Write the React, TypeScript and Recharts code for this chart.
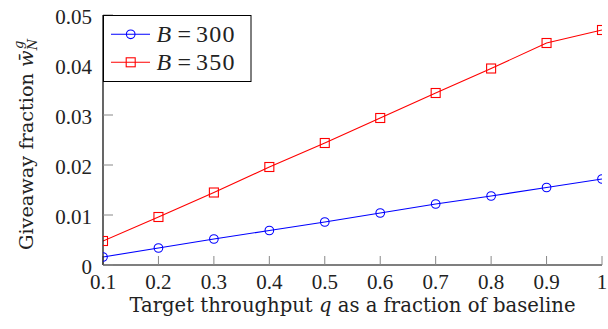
import React from "react";
import { LineChart, Line, XAxis, YAxis } from "recharts";

const qValues = [0.1, 0.2, 0.3, 0.4, 0.5, 0.6, 0.7, 0.8, 0.9, 1.0];
const giveawayB300 = [0.0016, 0.0034, 0.0052, 0.0069, 0.0086, 0.0104, 0.0122, 0.0138, 0.0155, 0.0172];
const giveawayB350 = [0.0048, 0.0096, 0.0145, 0.0196, 0.0244, 0.0294, 0.0344, 0.0393, 0.0444, 0.047];
const xTicks = [0.1, 0.2, 0.3, 0.4, 0.5, 0.6, 0.7, 0.8, 0.9, 1];
const yTicks = [0, 0.01, 0.02, 0.03, 0.04, 0.05];
const seriesValues = ["300", "350"];

const data = qValues.map((q, i) => ({ q, b300: giveawayB300[i], b350: giveawayB350[i] }));

const FONT = "'Liberation Serif', serif";
const LFONT = "'DejaVu Serif', serif";
const BLUE = "#0000ff";
const RED = "#ff0000";
const TXT = "#222";

const fmtX = (v: number) => (v === 1 ? "1" : String(v));
const fmtY = (v: number) => (v === 0 ? "0" : v.toFixed(2));

const CircleDot = (props: any) => {
  const { cx, cy } = props;
  if (cx == null || cy == null) return null;
  return <circle cx={cx} cy={cy} r={4.3} fill="none" stroke={BLUE} strokeWidth={1.1} />;
};
const SquareDot = (props: any) => {
  const { cx, cy } = props;
  if (cx == null || cy == null) return null;
  return <rect x={cx - 4.5} y={cy - 4.5} width={9} height={9} fill="none" stroke={RED} strokeWidth={1.1} />;
};

const LegendBox = () => {
  const colors = [BLUE, RED];
  return (
    <svg width={149} height={67} style={{ position: "absolute", left: 103, top: 15, display: "block" }}>
      <rect x={0.5} y={0.5} width={147.5} height={66} fill="#fff" stroke="#000" strokeWidth={1} />
      {seriesValues.map((v, i) => {
        const y = 19.3 + i * 28;
        const c = colors[i];
        return (
          <g key={i}>
            <line x1={8} x2={47} y1={y} y2={y} stroke={c} strokeWidth={1.1} />
            {i === 0 ? (
              <circle cx={27.7} cy={y} r={4.3} fill="none" stroke={c} strokeWidth={1.1} />
            ) : (
              <rect x={23.2} y={y - 4.5} width={9} height={9} fill="none" stroke={c} strokeWidth={1.1} />
            )}
            <text y={y + 8} fontFamily={FONT} fontSize={24} fill={TXT}>
              <tspan x={53.5} fontStyle="italic">B</tspan>
              <tspan x={74.5}>=</tspan>
              <tspan x={93} letterSpacing={1.3}>{v}</tspan>
            </text>
          </g>
        );
      })}
    </svg>
  );
};

const YLabel = () => (
  <text
    transform="translate(33, 250) rotate(-90)"
    fontFamily={LFONT}
    fontSize={19.3}
    fill={TXT}
    textAnchor="start"
  >
    Giveaway fraction{" "}
    <tspan fontStyle="italic">w̄</tspan>
    <tspan fontStyle="italic" fontSize={13} dy={4}>N</tspan>
    <tspan fontStyle="italic" fontSize={13} dx={-10} dy={-14}>g</tspan>
  </text>
);

const XLabel = () => (
  <text x={352.5} y={312} fontFamily={LFONT} fontSize={19.6} fill={TXT} textAnchor="middle">
    Target throughput <tspan fontStyle="italic">q</tspan> as a fraction of baseline
  </text>
);

export default function App() {
  return (
    <div style={{ position: "absolute", left: 0, top: 0, width: 608, height: 329, background: "#fff" }}>
      <LineChart width={608} height={329} data={data} margin={{ top: 15, right: 6, bottom: 0, left: 0 }}>
        <XAxis
          dataKey="q"
          type="number"
          domain={[0.1, 1]}
          ticks={xTicks}
          tickFormatter={fmtX}
          height={64}
          tickSize={-9}
          tickMargin={18}
          axisLine={{ stroke: "#000", strokeWidth: 1.2 }}
          tickLine={{ stroke: "#888", strokeWidth: 1 }}
          tick={{ fontFamily: FONT, fontSize: 21, fill: TXT }}
          interval={0}
          allowDataOverflow
          label={<XLabel />}
        />
        <YAxis
          type="number"
          domain={[0, 0.05]}
          ticks={yTicks}
          tickFormatter={fmtY}
          width={103}
          tickSize={-10}
          tickMargin={21}
          axisLine={{ stroke: "#000", strokeWidth: 1.2 }}
          tickLine={{ stroke: "#888", strokeWidth: 1 }}
          tick={{ fontFamily: FONT, fontSize: 21, fill: TXT, dy: 2 }}
          interval={0}
          allowDataOverflow
          label={<YLabel />}
        />
        <Line
          dataKey="b300"
          name="B = 300"
          stroke={BLUE}
          strokeWidth={1.1}
          type="linear"
          dot={<CircleDot />}
          isAnimationActive={false}
        />
        <Line
          dataKey="b350"
          name="B = 350"
          stroke={RED}
          strokeWidth={1.1}
          type="linear"
          dot={<SquareDot />}
          isAnimationActive={false}
        />
      </LineChart>
      <LegendBox />
    </div>
  );
}
